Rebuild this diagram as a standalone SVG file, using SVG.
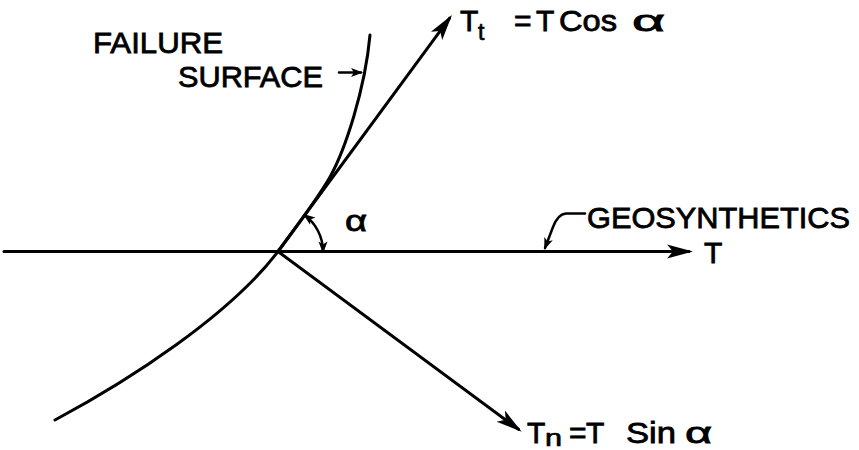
<svg xmlns="http://www.w3.org/2000/svg" width="859" height="450" viewBox="0 0 859 450">
<style>
.ln{fill:none;stroke:#000;stroke-width:3;stroke-linecap:round}
.thin{fill:none;stroke:#000;stroke-width:2.5;stroke-linecap:round}
.tx{font-family:"Liberation Sans",Arial,sans-serif;font-size:30px;fill:#000;stroke:#000;stroke-width:0.8}
.sub{font-family:"Liberation Sans",Arial,sans-serif;font-size:23px;fill:#000;stroke:#000;stroke-width:0.7}
</style>
<defs>
<marker id="big" markerUnits="userSpaceOnUse" viewBox="-26 -8 32 16" refX="0" refY="0" markerWidth="32" markerHeight="16" orient="auto" overflow="visible">
<path d="M4,0 L-22,-7 L-16,0 L-22,7 Z" fill="#000"/>
</marker>
<marker id="small" markerUnits="userSpaceOnUse" viewBox="-14 -6 18 12" refX="0" refY="0" markerWidth="18" markerHeight="12" orient="auto-start-reverse" overflow="visible">
<path d="M2,0 L-10,-4.5 L-7,0 L-10,4.5 Z" fill="#000"/>
</marker>
</defs>
<rect width="859" height="450" fill="#fff"/>

<g id="connectors">
<path id="failure-surface" class="ln" d="M55,420 C130,380 230,315 278,251.5 C300,222 318,198 330,177 C345,150 365,90 370,35"/>
<line id="geosynthetics" class="ln" x1="4" y1="251.5" x2="689" y2="251.5" marker-end="url(#big)"/>
<line id="tt-arrow" class="ln" x1="278" y1="251.5" x2="449.6" y2="18.2" marker-end="url(#big)"/>
<line id="tn-arrow" class="ln" x1="278" y1="251.5" x2="518.5" y2="429.3" marker-end="url(#big)"/>
<path id="alpha-arc" class="thin" d="M304.7,215.3 A45,45 0 0 1 323,251.5" marker-start="url(#small)" marker-end="url(#small)"/>
<line id="surface-leader" class="thin" x1="339" y1="72.5" x2="361" y2="72.5" marker-end="url(#small)"/>
<path id="geo-leader" class="thin" d="M585,213.5 L566,213.5 Q558,214 553,227 L545,248" marker-end="url(#small)"/>
</g>

<g id="label-failure-surface">
<text class="tx" x="93" y="53" textLength="130" lengthAdjust="spacingAndGlyphs">FAILURE</text>
<text class="tx" x="178" y="87" textLength="145" lengthAdjust="spacingAndGlyphs">SURFACE</text>
</g>

<g id="label-geosynthetics">
<text class="tx" x="587" y="228" textLength="263" lengthAdjust="spacingAndGlyphs">GEOSYNTHETICS</text>
</g>

<g id="label-T">
<text class="tx" x="704" y="263" font-size="32">T</text>
</g>

<g id="label-alpha">
<text class="tx" x="345" y="231" textLength="22" lengthAdjust="spacingAndGlyphs">α</text>
</g>

<g id="label-Tt">
<text class="tx" x="460" y="31">T</text>
<text class="sub" x="478" y="40">t</text>
<text class="tx" x="514" y="31">=</text>
<text class="tx" x="536" y="31">T</text>
<text class="tx" x="559" y="31" textLength="58" lengthAdjust="spacingAndGlyphs">Cos</text>
<text class="tx" x="632" y="31" textLength="33" lengthAdjust="spacingAndGlyphs">α</text>
</g>

<g id="label-Tn">
<text class="tx" x="527" y="443">T</text>
<text class="sub" x="545" y="446" textLength="17" lengthAdjust="spacingAndGlyphs">n</text>
<text class="tx" x="569" y="443">=</text>
<text class="tx" x="586" y="443">T</text>
<text class="tx" x="626" y="443" textLength="50" lengthAdjust="spacingAndGlyphs">Sin</text>
<text class="tx" x="685" y="443" textLength="27" lengthAdjust="spacingAndGlyphs">α</text>
</g>
</svg>
